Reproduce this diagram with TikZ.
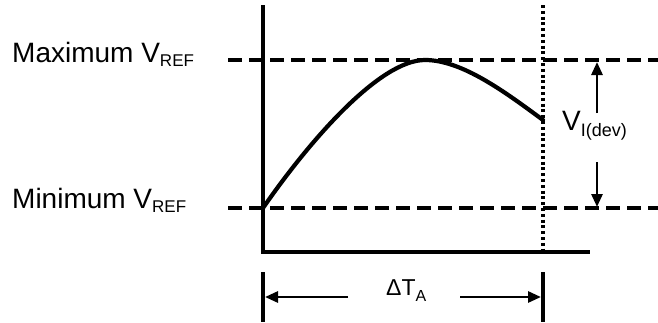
\documentclass[tikz,border=0pt]{standalone}
\usepackage{fontspec}
\setmainfont{Liberation Sans}
\usetikzlibrary{arrows.meta}
\tikzset{
  axisline/.style={line width=3.2pt},
  dashline/.style={line width=3.4pt, dash pattern=on 14pt off 7pt},
  dotline/.style={line width=3.2pt, dash pattern=on 3pt off 2.8pt},
  curveline/.style={line width=4.2pt, line cap=round},
  dimarrow/.style={line width=2.8pt, -{Triangle[length=13pt,width=11pt]}},
  lbl/.style={anchor=base west, inner sep=0pt, font=\fontsize{28}{30}\selectfont},
}
\begin{document}
\begin{tikzpicture}[x=1pt,y=-1pt]
\useasboundingbox (0,0) rectangle (658,322);
% axes
\coordinate (ytop) at (263,5);
\coordinate (origin) at (263,252);
\coordinate (xend) at (590,252);
\draw[axisline] (ytop) -- (origin) -- (xend);
% dashed reference lines
\coordinate (maxL) at (228,60);
\coordinate (maxR) at (658,60);
\coordinate (minL) at (228,208);
\coordinate (minR) at (658,208);
\draw[dashline] (maxL) -- (maxR);
\draw[dashline] (minL) -- (minR);
% dotted vertical
\coordinate (dtop) at (543,5);
\coordinate (dbot) at (543,250);
\draw[dotline] (dtop) -- (dbot);
% curve
\coordinate (c0) at (263,208);
\coordinate (c1) at (425,60);
\coordinate (c2) at (543,120);
\draw[curveline] (c0) .. controls (310,140) and (380,60) .. (c1)
  .. controls (462,60) and (505,92) .. (c2);
% labels
\node[lbl] (maxlbl) at (12,62) {Maximum V{\raisebox{-4pt}{\fontsize{17}{17}\selectfont REF}}};
\node[lbl] (minlbl) at (12,208) {Minimum V{\raisebox{-4pt}{\fontsize{17}{17}\selectfont REF}}};
\node[lbl] (vdev) at (562,130) {V{\raisebox{-6pt}{\fontsize{18}{18}\selectfont I(dev)}}};
% deviation arrows
\coordinate (upS) at (597,113);
\coordinate (upE) at (597,62);
\coordinate (dnS) at (597,162);
\coordinate (dnE) at (597,207);
\draw[dimarrow] (upS) -- (upE);
\draw[dimarrow] (dnS) -- (dnE);
% bottom dimension
\coordinate (b1t) at (263,272);
\coordinate (b1b) at (263,322);
\coordinate (b2t) at (543,272);
\coordinate (b2b) at (543,322);
\draw[axisline] (b1t) -- (b1b);
\draw[axisline] (b2t) -- (b2b);
\coordinate (la) at (348,297);
\coordinate (lb) at (265,297);
\coordinate (ra) at (460,297);
\coordinate (rb) at (541,297);
\draw[dimarrow] (la) -- (lb);
\draw[dimarrow] (ra) -- (rb);
\node[lbl, font=\fontsize{23}{25}\selectfont] (dta) at (386,295) {ΔT{\raisebox{-6pt}{\fontsize{16}{16}\selectfont A}}};
\end{tikzpicture}
\end{document}
